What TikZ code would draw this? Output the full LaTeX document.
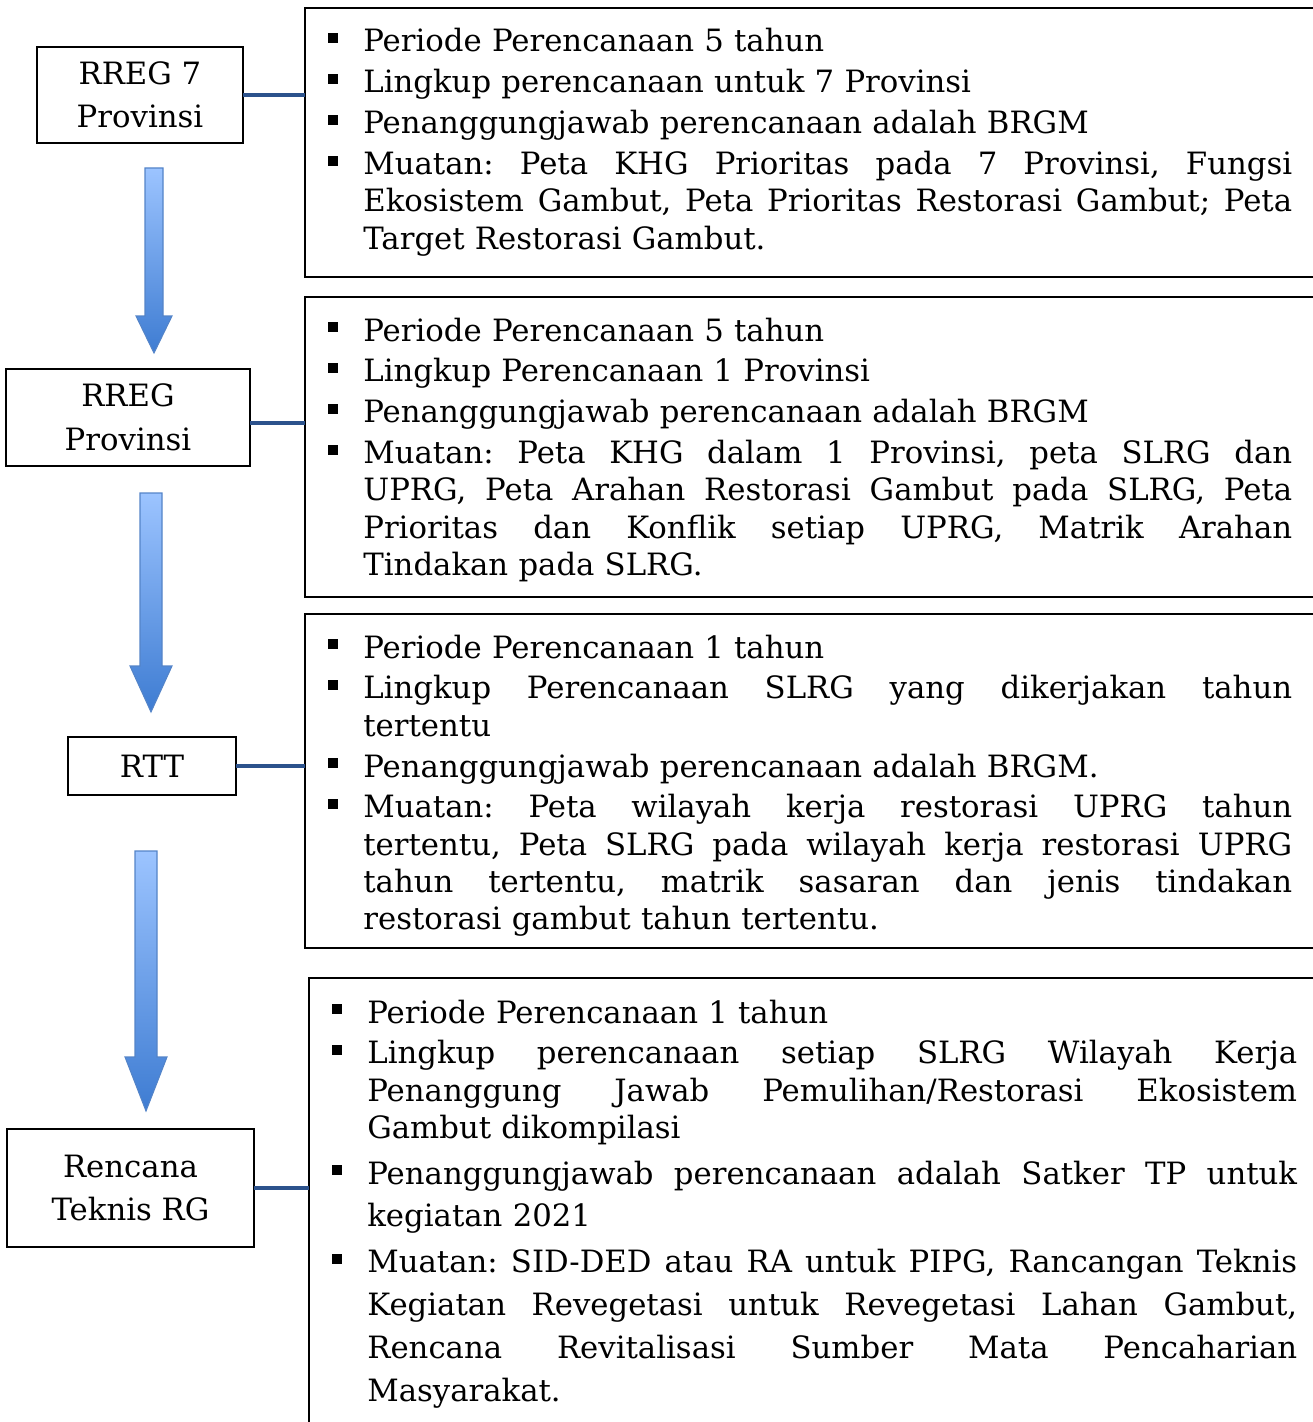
\documentclass[tikz,border=0pt]{standalone}
\usepackage{fontspec}
\setmainfont{DejaVu Serif}
\usetikzlibrary{positioning}

\definecolor{linkblue}{RGB}{44,82,140}
\definecolor{arrowtop}{RGB}{156,196,255}
\definecolor{arrowbot}{RGB}{62,124,210}
\definecolor{arrowedge}{RGB}{84,132,200}

% bullets and justified line
\newcommand{\bulmark}{\llap{\rule[0.18cm]{0.2cm}{0.2cm}\hspace{0.5cm}}}
\newcommand{\firstbul}{\noindent\bulmark}
\newcommand{\bul}{\par\noindent\bulmark}
\newcommand{\jl}[1]{\leavevmode\hbox to \hsize{\spaceskip=\fontdimen2\font plus 1fil\relax #1}\break}

\begin{document}
\begin{tikzpicture}[
  x=0.02cm, y=-0.02cm,
  stage/.style={draw=black, line width=1.1pt, inner sep=0pt, outer sep=0pt, align=center,
                font=\fontsize{17.5}{24.8}\selectfont},
  panel/.style={draw=black, line width=1.1pt, inner sep=0pt, outer sep=0pt, anchor=north west},
  items/.style={anchor=base west, inner sep=0pt, text width=18.58cm,
                font=\fontsize{17.5}{21.26}\selectfont,
                execute at begin node={\setlength{\parskip}{0.07cm}\frenchspacing}},
  link/.style={linkblue, line width=2.7pt},
  flow/.style={top color=arrowtop, bottom color=arrowbot, draw=arrowedge, line width=0.6pt},
]
\useasboundingbox (0,0) rectangle (1312,1422);

% Stages (left)
\node[stage, minimum width=4.12cm, minimum height=1.92cm] (b1) at (140,95) {RREG 7\\Provinsi};
\node[stage, minimum width=4.88cm, minimum height=1.94cm] (b2) at (128,417.5) {RREG\\Provinsi};
\node[stage, minimum width=3.36cm, minimum height=1.16cm] (b3) at (152,766) {RTT};
\node[stage, minimum width=4.94cm, minimum height=2.36cm] (b4) at (130.5,1188) {Rencana\\Teknis RG};

% Panels (right, cut at the page edge)
\node[panel, minimum width=20.5cm, minimum height=5.38cm] (f1) at (305,8) {};
\node[panel, minimum width=20.5cm, minimum height=6.0cm] (f2) at (305,297) {};
\node[panel, minimum width=20.5cm, minimum height=6.68cm] (f3) at (305,614) {};
\node[panel, minimum width=20.42cm, minimum height=9.6cm] (f4) at (309,978) {};

% Links stage -> panel
\draw[link] (b1.east) -- (b1.east -| f1.west);
\draw[link] ([yshift=-0.11cm]b2.east) -- ([yshift=-0.11cm]b2.east -| f2.west);
\draw[link] (b3.east) -- (b3.east -| f3.west);
\draw[link] (b4.east) -- (b4.east -| f4.west);

% Block arrows
\shadedraw[flow] (145,168) -- (163,168) -- (163,316) -- (172,316) -- (154,353)
  -- (136,316) -- (145,316) -- cycle;
\shadedraw[flow] (140,493) -- (162,493) -- (162,666) -- (172,666) -- (151,712)
  -- (130,666) -- (140,666) -- cycle;
\shadedraw[flow] (135,851) -- (157,851) -- (157,1057) -- (167,1057) -- (146,1111)
  -- (125,1057) -- (135,1057) -- cycle;

% Panel 1
\node[items] (t1) at (363,52) {%
\firstbul Periode Perencanaan 5 tahun
\bul Lingkup perencanaan untuk 7 Provinsi
\bul Penanggungjawab perencanaan adalah BRGM
\bul \jl{Muatan: Peta KHG Prioritas pada 7 Provinsi, Fungsi}
\jl{Ekosistem Gambut, Peta Prioritas Restorasi Gambut; Peta}
Target Restorasi Gambut.\par};

% Panel 2
\node[items] (t2) at (363,341) {%
\firstbul Periode Perencanaan 5 tahun
\bul Lingkup Perencanaan 1 Provinsi
\bul Penanggungjawab perencanaan adalah BRGM
\bul \jl{Muatan: Peta KHG dalam 1 Provinsi, peta SLRG dan}
\jl{UPRG, Peta Arahan Restorasi Gambut pada SLRG, Peta}
\jl{Prioritas dan Konflik setiap UPRG, Matrik Arahan}
Tindakan pada SLRG.\par};

% Panel 3
\node[items] (t3) at (363,658) {%
\firstbul Periode Perencanaan 1 tahun
\bul \jl{Lingkup Perencanaan SLRG yang dikerjakan tahun}
tertentu
\bul Penanggungjawab perencanaan adalah BRGM.
\bul \jl{Muatan: Peta wilayah kerja restorasi UPRG tahun}
\jl{tertentu, Peta SLRG pada wilayah kerja restorasi UPRG}
\jl{tahun tertentu, matrik sasaran dan jenis tindakan}
restorasi gambut tahun tertentu.\par};

% Panel 4
\node[items, text width=18.6cm] (t4) at (367,1023) {%
\firstbul Periode Perencanaan 1 tahun
\bul \jl{Lingkup perencanaan setiap SLRG Wilayah Kerja}
\jl{Penanggung Jawab Pemulihan/Restorasi Ekosistem}
Gambut dikompilasi
\bul \setlength{\baselineskip}{0.84cm}\jl{Penanggungjawab perencanaan adalah Satker TP untuk}
kegiatan 2021
\bul \setlength{\baselineskip}{0.86cm}\jl{Muatan: SID-DED atau RA untuk PIPG, Rancangan Teknis}
\jl{Kegiatan Revegetasi untuk Revegetasi Lahan Gambut,}
\jl{Rencana Revitalisasi Sumber Mata Pencaharian}
Masyarakat.\par};

\end{tikzpicture}
\end{document}
